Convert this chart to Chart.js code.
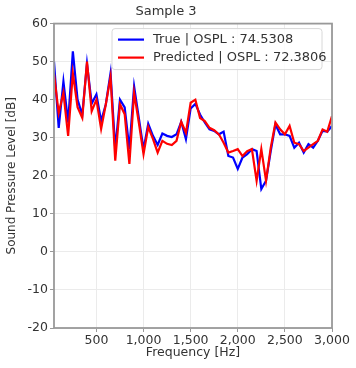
<!DOCTYPE html>
<html>
<head>
<meta charset="utf-8">
<script src="https://cdn.jsdelivr.net/npm/chart.js@4/dist/chart.umd.min.js"></script>
<style>
html,body{margin:0;padding:0;background:#fff;}
#wrap{width:356px;height:368px;}
</style>
</head>
<body>
<div id="wrap"><canvas id="c" width="356" height="368"></canvas></div>
<script>
const frequencies = [];
for (let f = 50; f <= 3000; f += 50) frequencies.push(f);

const trueSPL = [50.0, 32.6, 44.8, 34.0, 52.7, 40.0, 36.0, 49.5, 39.0, 41.4,
                 34.4, 38.8, 47.0, 27.0, 40.0, 38.0, 27.0, 43.5, 35.2, 27.0,
                 33.7, 30.5, 28.1, 31.1, 30.5, 30.2, 30.9, 34.2, 29.6, 37.7,
                 38.9, 36.1, 34.0, 32.2, 31.8, 30.9, 31.6, 25.2, 24.8, 21.8,
                 24.8, 25.7, 27.0, 26.5, 16.5, 18.7, 26.5, 33.5, 30.9, 30.9,
                 30.5, 27.4, 28.7, 26.1, 28.3, 27.4, 29.2, 31.8, 31.6, 33.1];

const predSPL = [46.7, 36.5, 41.8, 30.5, 47.0, 38.0, 35.2, 50.0, 37.0, 40.0,
                 32.3, 38.8, 46.0, 24.0, 38.8, 36.2, 23.1, 41.8, 34.0, 25.7,
                 32.8, 29.7, 26.1, 29.2, 28.4, 28.1, 29.2, 34.2, 31.3, 39.2,
                 40.0, 35.2, 34.4, 32.6, 32.0, 30.9, 28.7, 26.1, 26.5, 27.0,
                 25.2, 26.5, 27.0, 18.7, 27.0, 18.7, 27.4, 34.0, 32.2, 30.9,
                 33.1, 28.7, 28.3, 26.5, 27.4, 28.3, 29.2, 32.2, 31.6, 35.7];

const xTicks = [500, 1000, 1500, 2000, 2500, 3000];
const yTicks = [-20, -10, 0, 10, 20, 30, 40, 50, 60];

const seriesLabels = ['True | OSPL : 74.5308', 'Predicted | OSPL : 72.3806'];
const seriesColors = ['#0000ff', '#ff0000'];

const FONT = 'DejaVu Sans';
const TXT = '#333333';

const framePlugin = {
  id: 'frame',
  afterDatasetsDraw(chart) {
    const {ctx, chartArea: a} = chart;
    ctx.save();
    ctx.strokeStyle = '#999999';
    ctx.lineWidth = 1.8;
    ctx.strokeRect(a.left, a.top, a.right - a.left, a.bottom - a.top);
    ctx.restore();
  },
  afterDraw(chart) {
    const {ctx, chartArea: a} = chart;
    ctx.save();
    const bx = a.right - 220, by = a.top + 5, bw = 210, bh = 41;
    ctx.fillStyle = 'rgba(255,255,255,0.85)';
    ctx.strokeStyle = '#d8d8d8';
    ctx.lineWidth = 1;
    ctx.beginPath();
    if (ctx.roundRect) ctx.roundRect(bx, by, bw, bh, 3); else ctx.rect(bx, by, bw, bh);
    ctx.fill();
    ctx.stroke();
    ctx.font = '13px "' + FONT + '"';
    ctx.textBaseline = 'middle';
    chart.data.datasets.forEach((ds, i) => {
      const y = by + 11 + i * 18;
      ctx.strokeStyle = ds.borderColor;
      ctx.lineWidth = 2.2;
      ctx.beginPath();
      ctx.moveTo(bx + 6, y);
      ctx.lineTo(bx + 32, y);
      ctx.stroke();
      ctx.fillStyle = TXT;
      ctx.fillText(ds.label, bx + 41, y);
    });
    ctx.restore();
  }
};

new Chart(document.getElementById('c'), {
  type: 'line',
  data: {
    datasets: [
      {
        label: seriesLabels[0],
        data: frequencies.map((f, i) => ({x: f, y: trueSPL[i]})),
        borderColor: seriesColors[0],
        borderWidth: 2.2,
        pointRadius: 0,
        tension: 0,
        fill: false,
        order: 1
      },
      {
        label: seriesLabels[1],
        data: frequencies.map((f, i) => ({x: f, y: predSPL[i]})),
        borderColor: seriesColors[1],
        borderWidth: 2.2,
        pointRadius: 0,
        tension: 0,
        fill: false,
        order: 0
      }
    ]
  },
  options: {
    responsive: false,
    animation: false,
    devicePixelRatio: 1,
    layout: {padding: {left: 0, right: 24, top: 0, bottom: 0}},
    plugins: {
      legend: {display: false},
      tooltip: {enabled: false},
      title: {
        display: true,
        text: 'Sample 3',
        color: TXT,
        font: {family: FONT, size: 13, weight: 'normal'},
        padding: {top: 4, bottom: 4}
      }
    },
    scales: {
      x: {
        type: 'linear',
        min: 50,
        max: 3000,
        afterBuildTicks(scale) { scale.ticks = xTicks.map(v => ({value: v})); },
        afterFit(scale) { scale.height = 40; },
        ticks: {
          color: TXT,
          font: {family: FONT, size: 12.5},
          padding: 1,
          maxRotation: 0,
          autoSkip: false
        },
        grid: {color: '#ebebeb', lineWidth: 1, drawTicks: true, tickLength: 4, tickColor: '#999999'},
        border: {display: false},
        title: {
          display: true,
          text: 'Frequency [Hz]',
          color: TXT,
          font: {family: FONT, size: 12.5},
          padding: {top: 0, bottom: 8}
        }
      },
      y: {
        type: 'linear',
        min: -20,
        max: 60,
        afterBuildTicks(scale) { scale.ticks = yTicks.map(v => ({value: v})); },
        afterFit(scale) { scale.width = 54; },
        ticks: {
          color: TXT,
          font: {family: FONT, size: 12.5},
          padding: 2
        },
        grid: {color: '#ebebeb', lineWidth: 1, drawTicks: true, tickLength: 4, tickColor: '#999999'},
        border: {display: false},
        title: {
          display: true,
          text: 'Sound Pressure Level [dB]',
          color: TXT,
          font: {family: FONT, size: 12},
          padding: {top: 5, bottom: 0}
        }
      }
    }
  },
  plugins: [framePlugin]
});
</script>
</body>
</html>
